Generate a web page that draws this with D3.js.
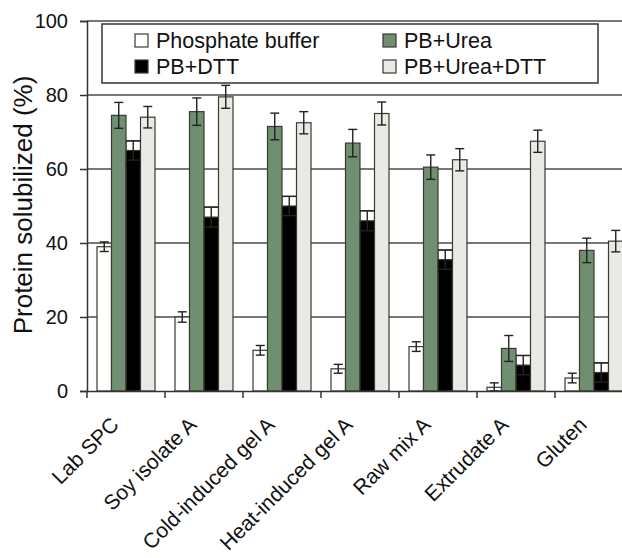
<!DOCTYPE html>
<html>
<head>
<meta charset="utf-8">
<script src="https://cdn.jsdelivr.net/npm/d3@7"></script>
<style>
  body { margin: 0; background: #fff; }
  text { font-family: "Liberation Sans", Arial, sans-serif; fill: #111; }
</style>
</head>
<body>
<svg id="chart"></svg>
<script>
// data
const categories = ["Lab SPC", "Soy isolate A", "Cold-induced gel A", "Heat-induced gel A", "Raw mix A", "Extrudate A", "Gluten"];
const seriesNames = ["Phosphate buffer", "PB+Urea", "PB+DTT", "PB+Urea+DTT"];
const phosphate = [39, 20, 11, 6, 12, 1, 3.5];
const phosphateErr = [1.3, 1.4, 1.3, 1.2, 1.3, 1.2, 1.3];
const urea = [74.5, 75.5, 71.5, 67, 60.5, 11.5, 38];
const ureaErr = [3.5, 3.7, 3.6, 3.7, 3.3, 3.5, 3.3];
const dtt = [65, 47, 50, 46, 35.5, 7, 5];
const dttErr = [2.6, 2.7, 2.6, 2.7, 2.6, 2.6, 2.6];
const ureaDtt = [74, 79.5, 72.5, 75, 62.5, 67.5, 40.5];
const ureaDttErr = [2.9, 3.1, 3.0, 3.1, 3.0, 3.0, 2.9];
const yTicks = [0, 20, 40, 60, 80, 100];

const width = 622, height = 558;
const margin = {top: 21, left: 87, bottom: 167};
const fills = ["#ffffff", "#6f8f70", "#000000", "#e9eae6"];
const outline = "#3a3a2e";

const values = [phosphate, urea, dtt, ureaDtt];
const errs = [phosphateErr, ureaErr, dttErr, ureaDttErr];

const svg = d3.select("#chart").attr("width", width).attr("height", height);

const x = d3.scaleBand().domain(categories).range([margin.left, margin.left + 7 * 78]);
const xSub = d3.scaleBand().domain(d3.range(4)).range([10, 68]);
const y = d3.scaleLinear().domain([0, 100]).range([height - margin.bottom, margin.top]);

// gridlines
svg.append("g").selectAll("line")
  .data(yTicks.filter(d => d > 0))
  .join("line")
    .attr("x1", margin.left).attr("x2", width)
    .attr("y1", d => y(d)).attr("y2", d => y(d))
    .attr("stroke", "#4a4a4a").attr("stroke-width", 1.5);

// bars
const rows = [];
categories.forEach((c, i) => {
  values.forEach((s, k) => rows.push({cat: c, k: k, v: s[i], e: errs[k][i]}));
});

const g = svg.append("g");
const bx = d => x(d.cat) + xSub(d.k);
const bw = xSub.bandwidth();

// PB+DTT bars show an outlined box up to the upper error cap
g.selectAll("rect.box")
  .data(rows.filter(d => d.k === 2))
  .join("rect")
    .attr("class", "box")
    .attr("x", bx).attr("width", bw)
    .attr("y", d => y(d.v + d.e)).attr("height", d => y(0) - y(d.v + d.e))
    .attr("fill", "#fff").attr("stroke", outline).attr("stroke-width", 1.2);

g.selectAll("rect.bar")
  .data(rows)
  .join("rect")
    .attr("class", "bar")
    .attr("x", bx).attr("width", bw)
    .attr("y", d => y(d.v)).attr("height", d => y(0) - y(d.v))
    .attr("fill", d => fills[d.k]).attr("stroke", outline).attr("stroke-width", 1.2);

// error bars
const eb = g.selectAll("g.err").data(rows).join("g").attr("class", "err")
  .attr("stroke", "#222").attr("stroke-width", 1.4);
const cap = d => d.k === 2 ? bw / 2 : 4.5;
eb.append("line")
  .attr("x1", d => bx(d) + bw / 2).attr("x2", d => bx(d) + bw / 2)
  .attr("y1", d => y(d.v + d.e)).attr("y2", d => y(Math.max(0, d.v - d.e)));
eb.append("line")
  .attr("x1", d => bx(d) + bw / 2 - cap(d)).attr("x2", d => bx(d) + bw / 2 + cap(d))
  .attr("y1", d => y(d.v + d.e)).attr("y2", d => y(d.v + d.e));
eb.append("line")
  .attr("x1", d => bx(d) + bw / 2 - cap(d)).attr("x2", d => bx(d) + bw / 2 + cap(d))
  .attr("y1", d => y(Math.max(0, d.v - d.e))).attr("y2", d => y(Math.max(0, d.v - d.e)));

// y axis
const yAxis = svg.append("g")
  .attr("transform", `translate(${margin.left},0)`)
  .call(d3.axisLeft(y).tickValues(yTicks).tickSize(7).tickPadding(12));
yAxis.select(".domain").attr("stroke", "#333").attr("stroke-width", 1.5);
yAxis.selectAll(".tick line").attr("stroke", "#333").attr("stroke-width", 1.5);
yAxis.selectAll(".tick text").attr("font-size", 20).attr("font-family", "Liberation Sans, Arial, sans-serif").attr("fill", "#111");

// x axis
const xAxis = svg.append("g")
  .attr("transform", `translate(0,${y(0)})`)
  .call(d3.axisBottom(x).tickValues([]).tickSizeOuter(0));
xAxis.select(".domain").attr("stroke", "#333").attr("stroke-width", 1.5);
svg.append("g").selectAll("line")
  .data(categories)
  .join("line")
    .attr("x1", d => x(d)).attr("x2", d => x(d))
    .attr("y1", y(0)).attr("y2", y(0) + 7)
    .attr("stroke", "#333").attr("stroke-width", 1.5);

svg.append("g").selectAll("text")
  .data(categories)
  .join("text")
    .attr("transform", d => `translate(${x(d) + x.bandwidth() / 2 - 6},${y(0) + 35}) rotate(-45)`)
    .attr("text-anchor", "end")
    .attr("font-size", 21)
    .text(d => d);

// y title
svg.append("text")
  .attr("transform", `translate(32,205) rotate(-90)`)
  .attr("text-anchor", "middle")
  .attr("font-size", 26)
  .text("Protein solubilized (%)");

// legend
svg.append("rect")
  .attr("x", 102).attr("y", 24).attr("width", 496).attr("height", 59)
  .attr("fill", "#fff").attr("stroke", "#333").attr("stroke-width", 1.5);
const legPos = [[135, 48], [383, 48], [135, 74], [383, 74]];
const leg = svg.append("g").selectAll("g")
  .data(seriesNames)
  .join("g")
    .attr("transform", (d, i) => `translate(${legPos[i][0]},${legPos[i][1]})`);
leg.append("rect")
  .attr("x", 0).attr("y", -14).attr("width", 13).attr("height", 13)
  .attr("fill", (d, i) => fills[i]).attr("stroke", outline).attr("stroke-width", 1.2);
leg.append("text")
  .attr("x", 21).attr("y", 0)
  .attr("font-size", 21.5)
  .text(d => d);
</script>
</body>
</html>
